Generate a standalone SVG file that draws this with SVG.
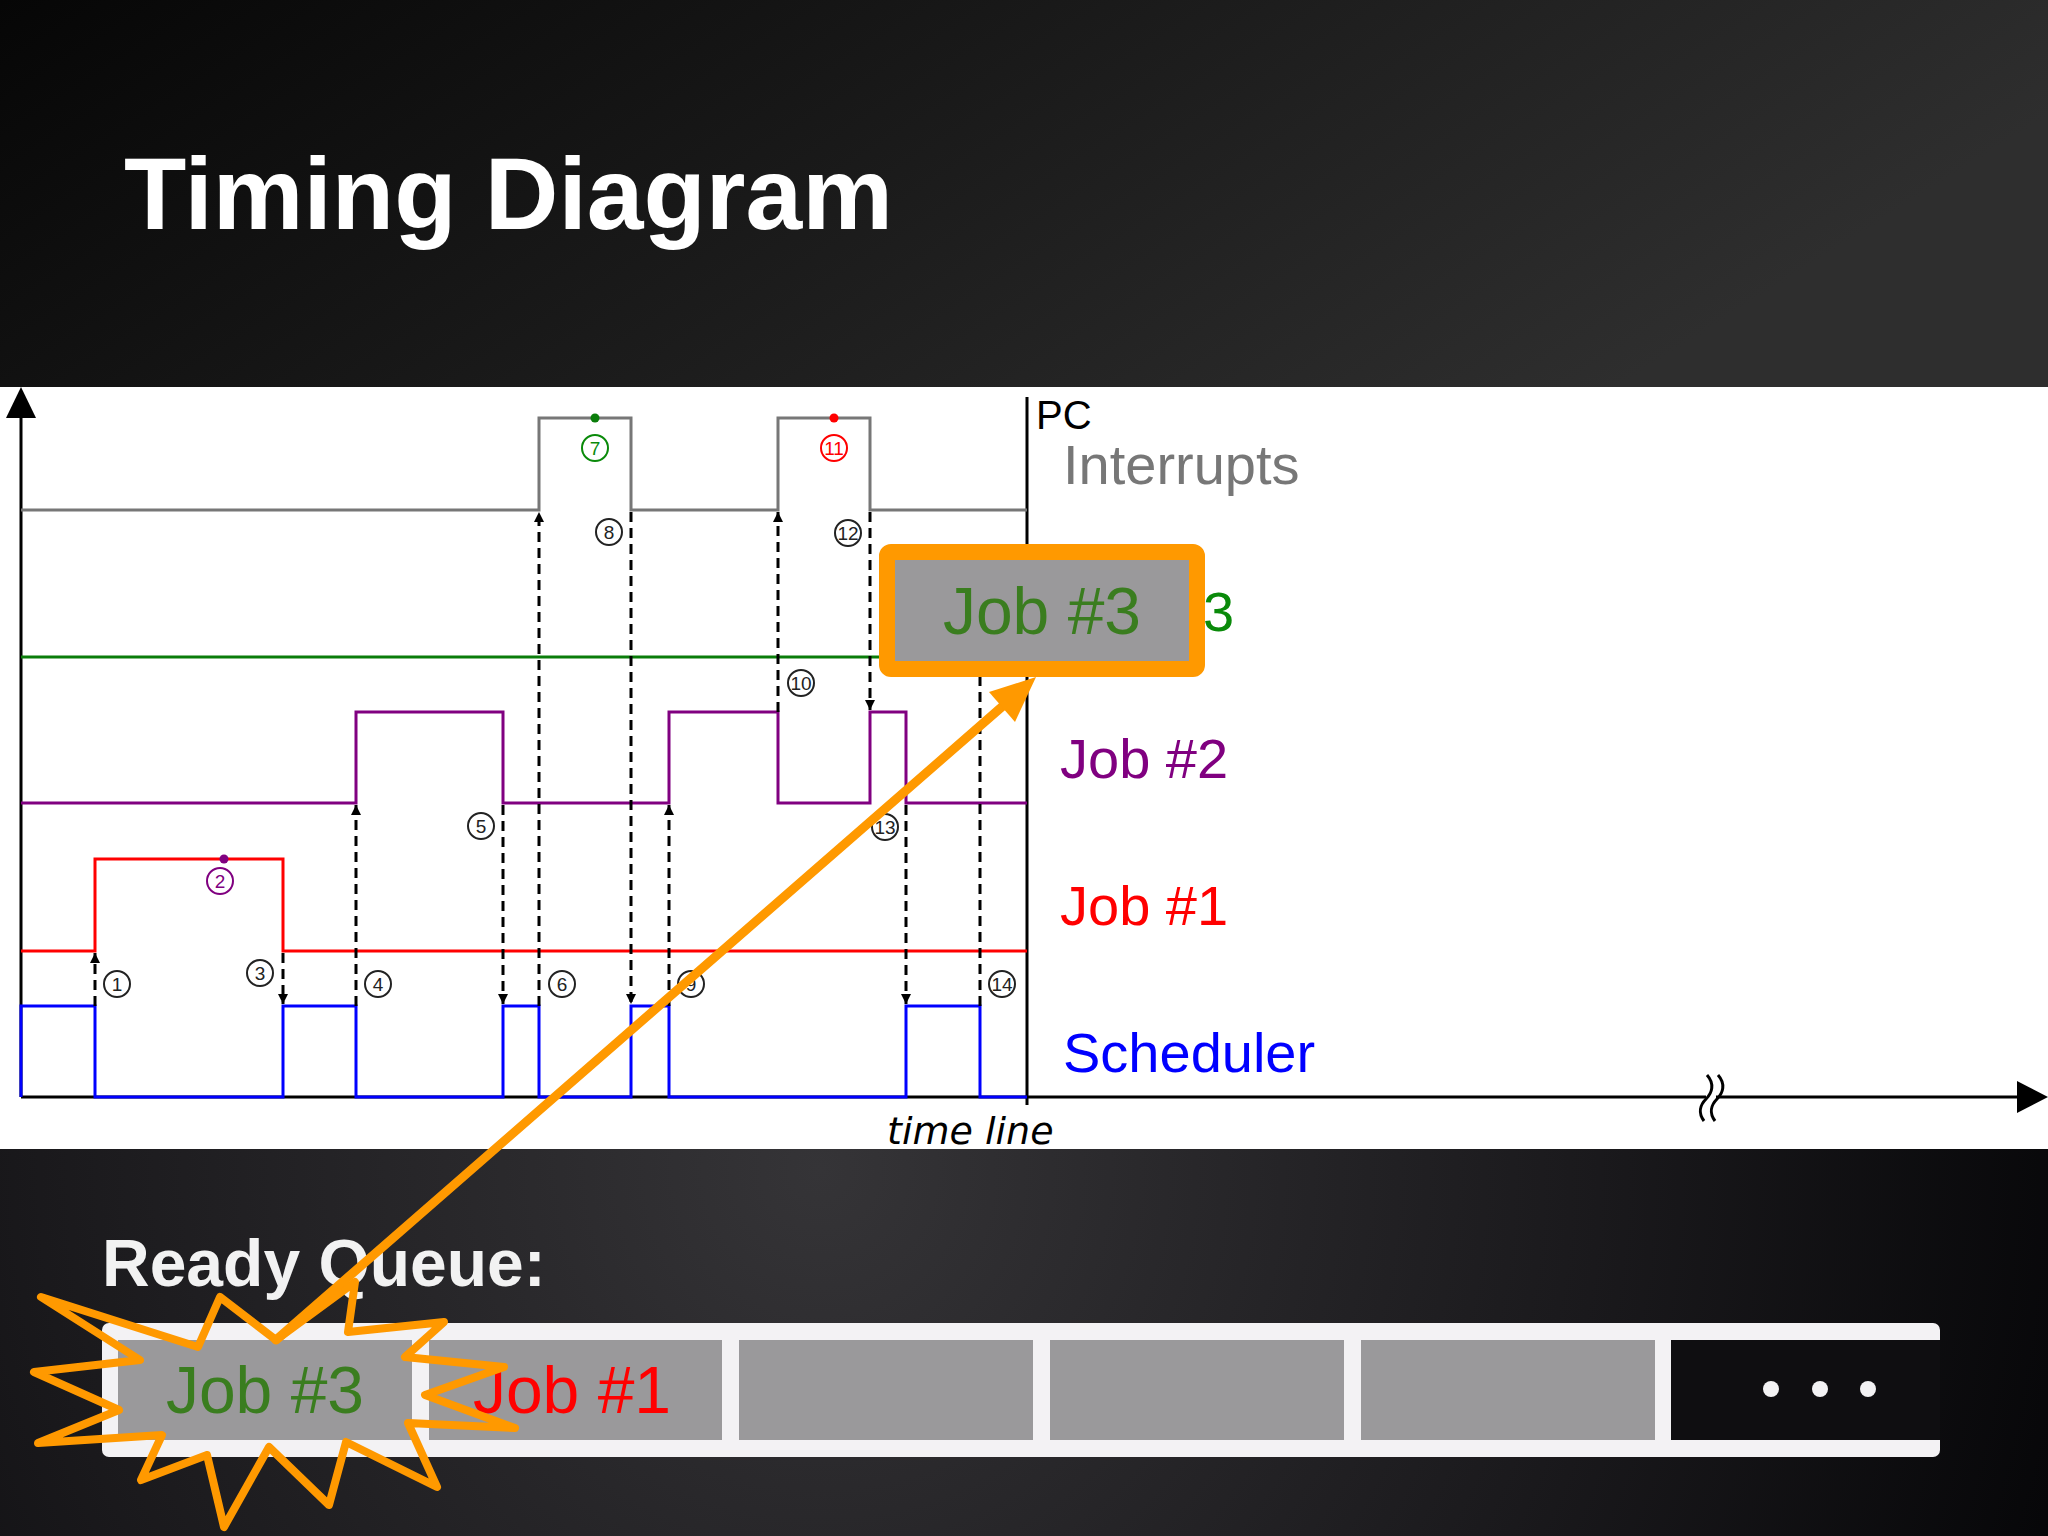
<svg xmlns="http://www.w3.org/2000/svg" width="2048" height="1536" viewBox="0 0 2048 1536">
  <defs>
    <linearGradient id="bgTop" x1="0" y1="0" x2="1" y2="0.3">
      <stop offset="0" stop-color="#060606"/>
      <stop offset="1" stop-color="#2e2e2e"/>
    </linearGradient>
    <radialGradient id="bgBot" cx="820" cy="1170" r="1300" gradientUnits="userSpaceOnUse">
      <stop offset="0" stop-color="#353437"/>
      <stop offset="0.6" stop-color="#1a191c"/>
      <stop offset="1" stop-color="#060608"/>
    </radialGradient>
    <marker id="ah" viewBox="0 0 10 10" refX="10" refY="5" markerWidth="10" markerHeight="10" markerUnits="userSpaceOnUse" orient="auto">
      <path d="M0,0 L10,5 L0,10 z" fill="#000"/>
    </marker>
    <style>
      .sig{fill:none;stroke-width:3;stroke-linejoin:miter}
      .dash{fill:none;stroke:#000;stroke-width:3;stroke-dasharray:10 6}
      .num circle{fill:#fff;stroke-width:2}
      .num text{font-family:"Liberation Sans",Arial,sans-serif;font-size:19px;text-anchor:middle}
      .lbl{font-family:"Liberation Sans",Arial,sans-serif;font-size:56px}
      .cell{fill:#9a999b}
      .job{font-family:"Liberation Sans",Arial,sans-serif;font-size:66px;text-anchor:middle}
    </style>
  </defs>

  <!-- background -->
  <rect x="0" y="0" width="2048" height="387" fill="url(#bgTop)"/>
  <rect x="0" y="1149" width="2048" height="387" fill="url(#bgBot)"/>
  <rect x="0" y="387" width="2048" height="762" fill="#ffffff"/>

  <text id="title" x="124" y="229" font-family="Liberation Sans, Arial, sans-serif" font-weight="bold" font-size="102" fill="#ffffff">Timing Diagram</text>

  <!-- axes -->
  <g id="axes">
    <line x1="21" y1="1097" x2="21" y2="415" stroke="#000" stroke-width="3"/>
    <polygon points="21,387 6,418 36,418" fill="#000"/>
    <line x1="21" y1="1097" x2="2020" y2="1097" stroke="#000" stroke-width="3"/>
    <polygon points="2048,1097 2017,1081 2017,1113" fill="#000"/>
    <rect x="1706" y="1092" width="10" height="11" fill="#fff"/>
    <path d="M1707,1075 C1715,1084 1712,1093 1706,1099 C1700,1105 1698,1113 1704,1121" fill="none" stroke="#000" stroke-width="3"/>
    <path d="M1718,1075 C1726,1084 1723,1093 1717,1099 C1711,1105 1709,1113 1715,1121" fill="none" stroke="#000" stroke-width="3"/>
    <line x1="1027" y1="397" x2="1027" y2="1105" stroke="#000" stroke-width="3"/>
    <text x="1036" y="429" font-family="Liberation Sans, Arial, sans-serif" font-size="40" fill="#000">PC</text>
    <text x="887" y="1144" font-family="DejaVu Sans, sans-serif" font-style="italic" font-size="38" fill="#000">time line</text>
  </g>

  <!-- signal traces -->
  <g id="signals">
    <path class="sig" stroke="#777777" d="M21,510 H539 V418 H631 V510 H778 V418 H870 V510 H1027"/>
    <path class="sig" stroke="#0a7d0a" d="M21,657 H1027"/>
    <path class="sig" stroke="#800080" d="M21,803 H356 V712 H503 V803 H669 V712 H778 V803 H870 V712 H906 V803 H1027"/>
    <path class="sig" stroke="#ff0000" d="M21,951 H95 V859 H283 V951 H1027"/>
    <path class="sig" stroke="#0000ff" d="M21,1097 V1006 H95 V1097 H283 V1006 H356 V1097 H503 V1006 H539 V1097 H631 V1006 H669 V1097 H906 V1006 H980 V1097 H1027"/>
  </g>

  <!-- connectors: dashed transitions -->
  <g id="connectors">
    <line class="dash" x1="95" y1="1006" x2="95" y2="953" marker-end="url(#ah)"/>
    <line class="dash" x1="283" y1="953" x2="283" y2="1004" marker-end="url(#ah)"/>
    <line class="dash" x1="356" y1="1006" x2="356" y2="805" marker-end="url(#ah)"/>
    <line class="dash" x1="503" y1="805" x2="503" y2="1004" marker-end="url(#ah)"/>
    <line class="dash" x1="539" y1="1006" x2="539" y2="512" marker-end="url(#ah)"/>
    <line class="dash" x1="631" y1="512" x2="631" y2="1004" marker-end="url(#ah)"/>
    <line class="dash" x1="669" y1="1006" x2="669" y2="805" marker-end="url(#ah)"/>
    <line class="dash" x1="778" y1="712" x2="778" y2="512" marker-end="url(#ah)"/>
    <line class="dash" x1="870" y1="512" x2="870" y2="710" marker-end="url(#ah)"/>
    <line class="dash" x1="906" y1="805" x2="906" y2="1004" marker-end="url(#ah)"/>
    <line class="dash" x1="980" y1="1006" x2="980" y2="659" marker-end="url(#ah)"/>
  </g>

  <!-- event dots -->
  <g id="dots">
    <circle cx="224" cy="859" r="4.5" fill="#800080"/>
    <circle cx="595" cy="418" r="4.5" fill="#0a7d0a"/>
    <circle cx="834" cy="418" r="4.5" fill="#ff0000"/>
  </g>

  <!-- numbered events -->
  <g id="ev1" class="num"><circle cx="117" cy="984" r="13" stroke="#222"/><text x="117" y="991" fill="#222">1</text></g>
  <g id="ev2" class="num"><circle cx="220" cy="881" r="13" stroke="#800080"/><text x="220" y="888" fill="#800080">2</text></g>
  <g id="ev3" class="num"><circle cx="260" cy="973" r="13" stroke="#222"/><text x="260" y="980" fill="#222">3</text></g>
  <g id="ev4" class="num"><circle cx="378" cy="984" r="13" stroke="#222"/><text x="378" y="991" fill="#222">4</text></g>
  <g id="ev5" class="num"><circle cx="481" cy="826" r="13" stroke="#222"/><text x="481" y="833" fill="#222">5</text></g>
  <g id="ev6" class="num"><circle cx="562" cy="984" r="13" stroke="#222"/><text x="562" y="991" fill="#222">6</text></g>
  <g id="ev7" class="num"><circle cx="595" cy="448" r="13" stroke="#0a8a0a"/><text x="595" y="455" fill="#0a8a0a">7</text></g>
  <g id="ev8" class="num"><circle cx="609" cy="532" r="13" stroke="#222"/><text x="609" y="539" fill="#222">8</text></g>
  <g id="ev9" class="num"><circle cx="691" cy="984" r="13" stroke="#222"/><text x="691" y="991" fill="#222">9</text></g>
  <g id="ev10" class="num"><circle cx="801" cy="683" r="13" stroke="#222"/><text x="801" y="690" fill="#222">10</text></g>
  <g id="ev11" class="num"><circle cx="834" cy="448" r="13" stroke="#ff0000"/><text x="834" y="455" fill="#ff0000">11</text></g>
  <g id="ev12" class="num"><circle cx="848" cy="533" r="13" stroke="#222"/><text x="848" y="540" fill="#222">12</text></g>
  <g id="ev13" class="num"><circle cx="885" cy="827" r="13" stroke="#222"/><text x="885" y="834" fill="#222">13</text></g>
  <g id="ev14" class="num"><circle cx="1002" cy="984" r="13" stroke="#222"/><text x="1002" y="991" fill="#222">14</text></g>

  <!-- row labels -->
  <g id="labels">
    <text class="lbl" x="1063" y="484" fill="#777777">Interrupts</text>
    <text class="lbl" x="1203" y="631" fill="#0a8a0a">3</text>
    <text class="lbl" x="1060" y="778" fill="#800080">Job #2</text>
    <text class="lbl" x="1060" y="925" fill="#ff0000">Job #1</text>
    <text class="lbl" x="1063" y="1072" fill="#0000ff">Scheduler</text>
  </g>

  <!-- ready queue -->
  <text id="rq-title" x="102" y="1286" font-family="Liberation Sans, Arial, sans-serif" font-weight="bold" font-size="66" fill="#f2f2f2">Ready Queue:</text>
  <g id="queue">
    <rect x="102" y="1323" width="1838" height="134" rx="7" fill="#f3f2f4"/>
    <rect class="cell" x="118" y="1340" width="294" height="100"/>
    <rect class="cell" x="429" y="1340" width="293" height="100"/>
    <rect class="cell" x="739" y="1340" width="294" height="100"/>
    <rect class="cell" x="1050" y="1340" width="294" height="100"/>
    <rect class="cell" x="1361" y="1340" width="294" height="100"/>
    <rect x="1671" y="1340" width="269" height="100" fill="#0f0e11"/>
    <circle cx="1771" cy="1389" r="8" fill="#f3f2f4"/>
    <circle cx="1820" cy="1389" r="8" fill="#f3f2f4"/>
    <circle cx="1868" cy="1389" r="8" fill="#f3f2f4"/>
    <text class="job" x="265" y="1413" fill="#3a7d1f">Job #3</text>
    <text class="job" x="572" y="1413" fill="#ff0000">Job #1</text>
  </g>

  <!-- highlight: starburst, arrow, running box -->
  <g id="starburst">
    <polygon points="41,1297 198,1347 220,1297 276,1340 355,1282 348,1332 444,1322 405,1357 504,1367 425,1395 515,1428 408,1423 437,1487 346,1442 329,1505 269,1447 224,1527 207,1455 141,1480 162,1435 38,1443 119,1410 34,1372 140,1360" fill="none" stroke="#ff9900" stroke-width="8" stroke-linejoin="round"/>
  </g>
  <g id="move-arrow">
    <line x1="276" y1="1340" x2="1004" y2="705" stroke="#ff9900" stroke-width="9" stroke-linecap="round"/>
    <polygon points="1036,677 989,692 1015,722" fill="#ff9900"/>
  </g>
  <g id="running-job">
    <rect x="887" y="552" width="310" height="117" rx="4" fill="#9a999b" stroke="#ff9900" stroke-width="16"/>
    <text class="job" x="1042" y="634" fill="#3a7d1f">Job #3</text>
  </g>
</svg>
